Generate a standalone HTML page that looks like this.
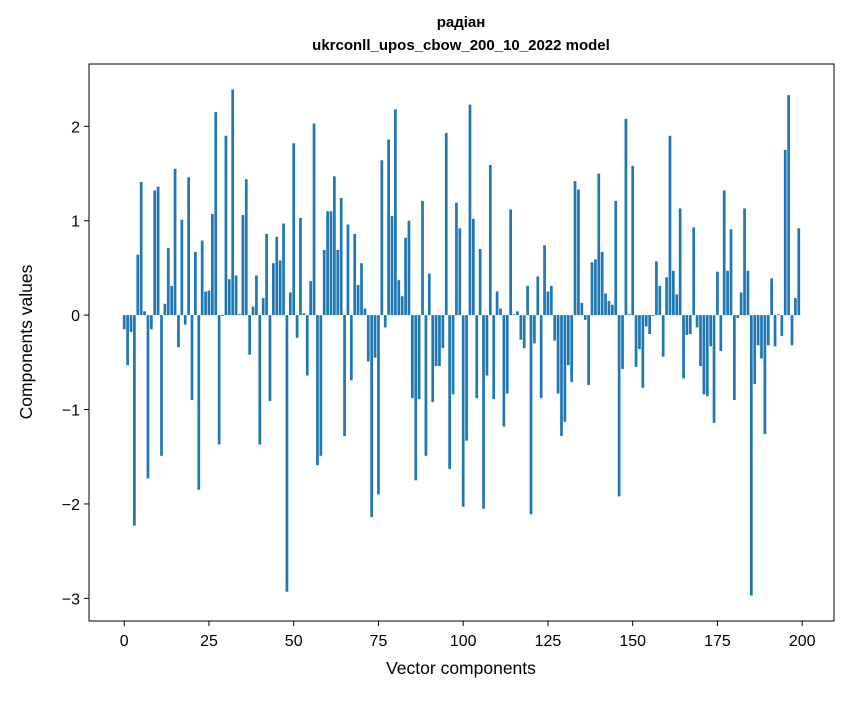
<!DOCTYPE html>
<html><head><meta charset="utf-8"><style>
body{margin:0;background:#fff;}
svg text{font-family:"Liberation Sans","DejaVu Sans",sans-serif;fill:#000;}
</style></head><body>
<svg id="chart" width="847" height="696" xmlns="http://www.w3.org/2000/svg">
<text x="461" y="27" text-anchor="middle" font-size="15" font-weight="bold">радіан</text>
<text x="461" y="50" text-anchor="middle" font-size="15" font-weight="bold">ukrconll_upos_cbow_200_10_2022 model</text>
<g id="bars"></g>
<rect x="89" y="64" width="745" height="557" fill="none" stroke="#000" stroke-width="1"/>
<g id="xticks"></g>
<g id="yticks"></g>
<text x="461" y="674" text-anchor="middle" font-size="17.5">Vector components</text>
<text transform="translate(32,342) rotate(-90)" text-anchor="middle" font-size="17.5">Components values</text>
</svg>
<script>
const componentIndex = Array.from({length:200},(_,i)=>i);
const componentValues = [
-0.15,-0.53,-0.18,-2.23,0.64,1.41,0.04,-1.73,-0.15,1.32,
1.36,-1.49,0.12,0.71,0.31,1.55,-0.34,1.01,-0.10,1.46,
-0.90,0.67,-1.85,0.79,0.25,0.26,1.07,2.15,-1.37,-0.01,
1.90,0.38,2.39,0.42,0.01,1.06,1.44,-0.42,0.09,0.42,
-1.37,0.18,0.86,-0.91,0.55,0.83,0.58,0.97,-2.93,0.24,
1.82,-0.24,1.03,0.02,-0.64,0.36,2.03,-1.59,-1.49,0.69,
1.10,1.10,1.47,0.69,1.24,-1.28,0.96,-0.69,0.86,0.32,
0.55,0.07,-0.49,-2.14,-0.45,-1.90,1.64,-0.13,1.86,1.05,
2.18,0.37,0.20,0.82,1.00,-0.88,-1.75,-0.89,1.21,-1.49,
0.44,-0.92,-0.54,-0.54,-0.35,1.93,-1.63,-0.84,1.19,0.92,
-2.03,-1.33,2.23,1.02,-0.88,0.70,-2.05,-0.64,1.59,-0.89,
0.25,0.07,-1.18,-0.83,1.12,0.01,0.04,-0.26,-0.35,0.31,
-2.11,-0.30,0.41,-0.88,0.74,0.25,0.31,-0.27,-0.83,-1.28,
-1.13,-0.53,-0.71,1.42,1.33,0.13,-0.05,-0.74,0.56,0.59,
1.50,0.67,0.23,0.15,0.11,1.21,-1.92,-0.57,2.08,0.01,
1.58,-0.55,-0.36,-0.77,-0.12,-0.20,-0.01,0.57,0.31,-0.44,
0.40,1.90,0.47,0.22,1.13,-0.67,-0.21,-0.20,0.93,-0.13,
-0.54,-0.84,-0.86,-0.33,-1.14,0.46,-0.38,1.32,0.47,0.91,
-0.90,-0.03,0.24,1.13,0.47,-2.97,-0.73,-0.32,-0.46,-1.26,
-0.32,0.39,-0.33,0.01,-0.22,1.75,2.33,-0.32,0.18,0.92];
const xTickValues = [0,25,50,75,100,125,150,175,200];
const yTickValues = [-3,-2,-1,0,1,2];
const yTickLabels = ["\u22123","\u22122","\u22121","0","1","2"];

const PL=89,PR=834,PT=64,PB=621;
const xMin=-10.39,xMax=209.39,yMin=-3.24,yMax=2.66;
const xs=v=>PL+(v-xMin)/(xMax-xMin)*(PR-PL);
const ys=v=>PT+(yMax-v)/(yMax-yMin)*(PB-PT);
const NS="http://www.w3.org/2000/svg";
const bars=document.getElementById('bars');
componentValues.forEach((v,i)=>{
  const r=document.createElementNS(NS,'rect');
  const x0=xs(componentIndex[i]-0.4),x1=xs(componentIndex[i]+0.4);
  const y0=ys(Math.max(v,0)),y1=ys(Math.min(v,0));
  r.setAttribute('x',x0);r.setAttribute('width',x1-x0);
  r.setAttribute('y',y0);r.setAttribute('height',Math.max(y1-y0,0.3));
  r.setAttribute('fill','#1f77b4');
  
  
  bars.appendChild(r);
});
const xg=document.getElementById('xticks');
xTickValues.forEach(t=>{
  const x=xs(t);
  const l=document.createElementNS(NS,'line');
  l.setAttribute('x1',x);l.setAttribute('x2',x);l.setAttribute('y1',PB);l.setAttribute('y2',PB+5);
  l.setAttribute('stroke','#000');
  
  
  xg.appendChild(l);
  const tx=document.createElementNS(NS,'text');
  tx.setAttribute('x',x);tx.setAttribute('y',PB+25);tx.setAttribute('text-anchor','middle');tx.setAttribute('font-size','16');
  tx.textContent=t;
  
  
  xg.appendChild(tx);
});
const yg=document.getElementById('yticks');
yTickValues.forEach((t,i)=>{
  const y=ys(t);
  const l=document.createElementNS(NS,'line');
  l.setAttribute('x1',PL-5);l.setAttribute('x2',PL);l.setAttribute('y1',y);l.setAttribute('y2',y);
  l.setAttribute('stroke','#000');
  
  
  yg.appendChild(l);
  const tx=document.createElementNS(NS,'text');
  tx.setAttribute('x',PL-9);tx.setAttribute('y',y+6);tx.setAttribute('text-anchor','end');tx.setAttribute('font-size','16');
  tx.textContent=yTickLabels[i];
  
  
  yg.appendChild(tx);
});
</script>
</body></html>
